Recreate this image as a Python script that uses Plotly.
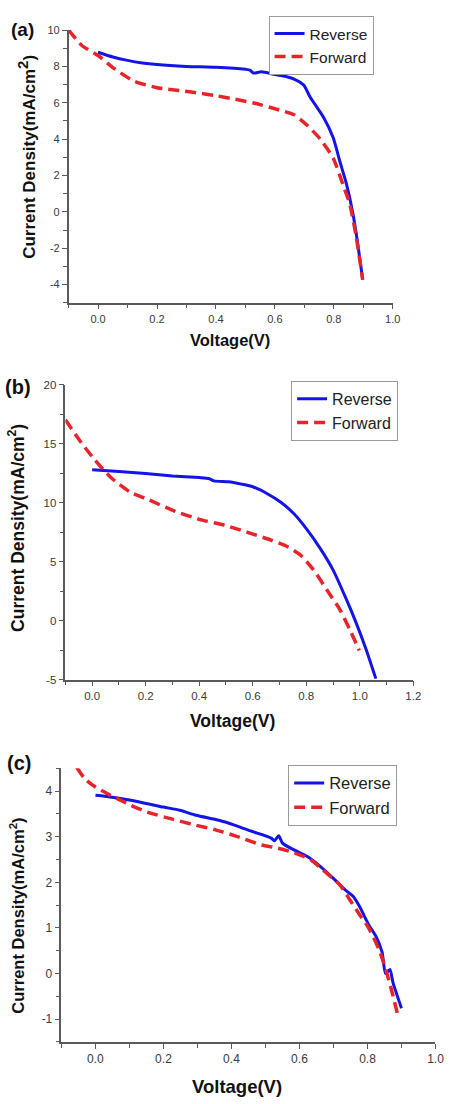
import plotly.graph_objects as go

W, H = 453, 1104

# ---------------- data ----------------
# Panel (a)
a_rev_v = [0.0, 0.05, 0.1, 0.15, 0.2, 0.3, 0.4, 0.5, 0.515, 0.527, 0.554, 0.6, 0.643, 0.665,
           0.698, 0.72, 0.765, 0.798, 0.82, 0.843, 0.865, 0.881, 0.898]
a_rev_j = [8.78, 8.52, 8.33, 8.19, 8.1, 8.0, 7.95, 7.84, 7.8, 7.64, 7.7, 7.55, 7.42, 7.3,
           6.97, 6.3, 5.2, 4.07, 2.8, 1.53, -0.1, -1.73, -3.73]
a_fwd_v = [-0.1, -0.055, 0.0, 0.055, 0.122, 0.2, 0.288, 0.333, 0.4, 0.466, 0.532, 0.6, 0.665,
           0.71, 0.754, 0.798, 0.831, 0.854, 0.876, 0.898]
a_fwd_j = [10.0, 9.15, 8.6, 7.88, 7.19, 6.83, 6.65, 6.55, 6.39, 6.19, 5.97, 5.67, 5.34,
           4.75, 4.0, 2.95, 1.5, 0.44, -1.37, -3.73]

# Panel (b)
b_rev_v = [0.0, 0.1, 0.2, 0.3, 0.4, 0.436, 0.455, 0.51, 0.558, 0.6, 0.656, 0.705, 0.754,
           0.803, 0.852, 0.9, 0.95, 0.986, 1.023, 1.06]
b_rev_j = [12.77, 12.63, 12.46, 12.26, 12.12, 12.04, 11.84, 11.76, 11.56, 11.34, 10.73, 10.03,
           9.05, 7.71, 6.12, 4.3, 1.79, -0.17, -2.4, -4.92]
b_fwd_v = [-0.1, -0.04, 0.0085, 0.07, 0.143, 0.204, 0.302, 0.4, 0.497, 0.595, 0.668, 0.73,
           0.778, 0.827, 0.876, 0.925, 0.962, 0.998]
b_fwd_j = [17.01, 15.06, 13.66, 12.12, 10.87, 10.31, 9.33, 8.58, 8.07, 7.37, 6.82, 6.26,
           5.56, 4.3, 2.63, 0.95, -0.73, -2.54]

# Panel (c)
c_rev_v = [0.0, 0.027, 0.104, 0.2, 0.248, 0.296, 0.363, 0.411, 0.459, 0.517, 0.526, 0.539,
           0.55, 0.584, 0.622, 0.661, 0.709, 0.738, 0.757, 0.776, 0.805, 0.824, 0.843, 0.853,
           0.866, 0.875, 0.9]
c_rev_j = [3.91, 3.89, 3.8, 3.65, 3.58, 3.47, 3.36, 3.25, 3.12, 2.97, 2.91, 3.02,
           2.86, 2.71, 2.57, 2.35, 2.02, 1.81, 1.7, 1.48, 1.05, 0.83, 0.47, 0.0,
           0.09, -0.2, -0.76]
c_fwd_v = [-0.055, -0.031, 0.0, 0.036, 0.104, 0.152, 0.229, 0.296, 0.353, 0.411, 0.488, 0.536,
           0.584, 0.632, 0.68, 0.718, 0.747, 0.776, 0.805, 0.833, 0.853, 0.872, 0.89]
c_fwd_j = [4.52, 4.27, 4.09, 3.94, 3.69, 3.54, 3.38, 3.25, 3.15, 3.02, 2.82, 2.75,
           2.65, 2.5, 2.2, 1.95, 1.63, 1.3, 0.98, 0.54, 0.11, -0.4, -0.94]

series_names = ["Reverse", "Forward"]
panel_labels = ["(a)", "(b)", "(c)"]
x_title = "Voltage(V)"

a_yticks = [-4, -2, 0, 2, 4, 6, 8, 10]
a_yticktext = ["-4", "-2", "0", "2", "4", "6", "8", "10"]
b_yticks = [-5, 0, 5, 10, 15, 20]
b_yticktext = ["-5", "0", "5", "10", "15", "20"]
c_yticks = [-1, 0, 1, 2, 3, 4]
c_yticktext = ["-1", "0", "1", "2", "3", "4"]

# ---------------- styling / layout ----------------
BLUE = "#1414e6"
RED = "#e8242a"
AXC = "#5a5a5a"
TXT = "#3a3a3a"
FONT = "Arial, Liberation Sans, sans-serif"


def dom_x(p0, p1):
    return [p0 / W, p1 / W]


def dom_y(p_top, p_bot):
    return [1 - p_bot / H, 1 - p_top / H]


panels = [
    dict(rev=(a_rev_v, a_rev_j), fwd=(a_fwd_v, a_fwd_j),
         xd=dom_x(70, 400.7), yd=dom_y(24.3, 300), xr=[-0.1, 1.0], yr=[-5, 10],
         yt=a_yticks, ytt=a_yticktext, ymin=1, xmaxlab=1.0, tfs=11,
         leg=(274, 10), lfs=15.5),
    dict(rev=(b_rev_v, b_rev_j), fwd=(b_fwd_v, b_fwd_j),
         xd=dom_x(66.7, 421.7), yd=dom_y(382.7, 681), xr=[-0.1, 1.2], yr=[-5, 20],
         yt=b_yticks, ytt=b_yticktext, ymin=2.5, xmaxlab=1.2, tfs=11.5,
         leg=(297, 379), lfs=16),
    dict(rev=(c_rev_v, c_rev_j), fwd=(c_fwd_v, c_fwd_j),
         xd=dom_x(62.7, 444.3), yd=dom_y(770.7, 1047.3), xr=[-0.1, 1.0], yr=[-1.5, 4.5],
         yt=c_yticks, ytt=c_yticktext, ymin=0.5, xmaxlab=1.0, tfs=12,
         leg=(294, 767), lfs=16.5),
]

fig = go.Figure()
layout = dict(
    width=W, height=H,
    margin=dict(l=0, r=0, t=0, b=0),
    paper_bgcolor="white", plot_bgcolor="white",
    font=dict(family=FONT, color=TXT),
    annotations=[],
)

for i, p in enumerate(panels):
    sfx = "" if i == 0 else str(i + 1)
    legname = "legend" + sfx
    xa, ya = "x" + sfx, "y" + sfx
    fig.add_trace(go.Scatter(
        x=p["rev"][0], y=p["rev"][1], mode="lines", name=series_names[0],
        line=dict(color=BLUE, width=3, shape="spline", smoothing=0.6),
        xaxis=xa, yaxis=ya, legend=legname))
    fig.add_trace(go.Scatter(
        x=p["fwd"][0], y=p["fwd"][1], mode="lines", name=series_names[1],
        line=dict(color=RED, width=3.5, dash="11px,6px", shape="spline", smoothing=0.6),
        xaxis=xa, yaxis=ya, legend=legname))

    xticks = [round(0.2 * k, 1) for k in range(int(round(p["xmaxlab"] / 0.2)) + 1)]
    layout["xaxis" + sfx] = dict(
        domain=p["xd"], range=p["xr"], anchor=ya,
        showline=True, linecolor=AXC, linewidth=1.5, mirror=False,
        showgrid=False, zeroline=False,
        tickmode="array", tickvals=xticks, ticktext=[f"{v:.1f}" for v in xticks],
        ticks="outside", ticklen=5, tickwidth=1.2, tickcolor=AXC,
        tickfont=dict(family=FONT, size=p["tfs"], color=TXT),
        minor=dict(tickmode="linear", tick0=0, dtick=0.1, ticks="outside",
                   ticklen=4, tickwidth=1, tickcolor=AXC),
    )
    layout["yaxis" + sfx] = dict(
        domain=p["yd"], range=p["yr"], anchor=xa,
        showline=True, linecolor=AXC, linewidth=1.5, mirror=False,
        showgrid=False, zeroline=False,
        tickmode="array", tickvals=p["yt"], ticktext=p["ytt"],
        ticks="outside", ticklen=5, tickwidth=1.2, tickcolor=AXC,
        tickfont=dict(family=FONT, size=p["tfs"], color=TXT),
        minor=dict(tickmode="linear", tick0=0, dtick=p["ymin"], ticks="outside",
                   ticklen=4, tickwidth=1, tickcolor=AXC),
    )
    layout[legname] = dict(
        x=p["leg"][0] / W, y=1 - p["leg"][1] / H, xanchor="left", yanchor="top",
        bgcolor="white", bordercolor="#9a9a9a", borderwidth=1,
        font=dict(family=FONT, size=p["lfs"], color="#222"),
        tracegroupgap=0, itemwidth=30,
    )

# annotations: panel labels and axis titles
ytitles = [
    "Current Density(mA/cm<sup><span style='font-size:15px'>2</span></sup>)",
    "Current Density(mA/cm<sup>2</sup>)",
    "Current Density(mA/cm<sup>2</sup>)",
]
ytitle_size = [17, 17.5, 16.5]
ytitle_pos = [(27, 152), (17, 528), (17, 920)]
xtitle_size = [16.5, 17.5, 18.5]
xtitle_pos = [(235, 338), (237, 723), (242, 1092)]
label_size = [19, 20, 20]
label_pos = [(23, 24), (18, 385), (19, 765)]

for i in range(3):
    layout["annotations"].append(dict(
        text=f"<b>{ytitles[i]}</b>", x=ytitle_pos[i][0] / W, y=1 - ytitle_pos[i][1] / H,
        xref="paper", yref="paper", showarrow=False, textangle=-90,
        xanchor="center", yanchor="middle",
        font=dict(family=FONT, size=ytitle_size[i], color="#111")))
    layout["annotations"].append(dict(
        text=f"<b>{x_title}</b>", x=xtitle_pos[i][0] / W, y=1 - xtitle_pos[i][1] / H,
        xref="paper", yref="paper", showarrow=False,
        xanchor="center", yanchor="middle",
        font=dict(family=FONT, size=xtitle_size[i], color="#111")))
    layout["annotations"].append(dict(
        text=f"<b>{panel_labels[i]}</b>", x=label_pos[i][0] / W, y=1 - label_pos[i][1] / H,
        xref="paper", yref="paper", showarrow=False,
        xanchor="center", yanchor="middle",
        font=dict(family=FONT, size=label_size[i], color="#111")))

fig.update_layout(**layout)
fig.write_html("out.html", config={"displayModeBar": False},
               post_script="document.body.style.margin='0';")
